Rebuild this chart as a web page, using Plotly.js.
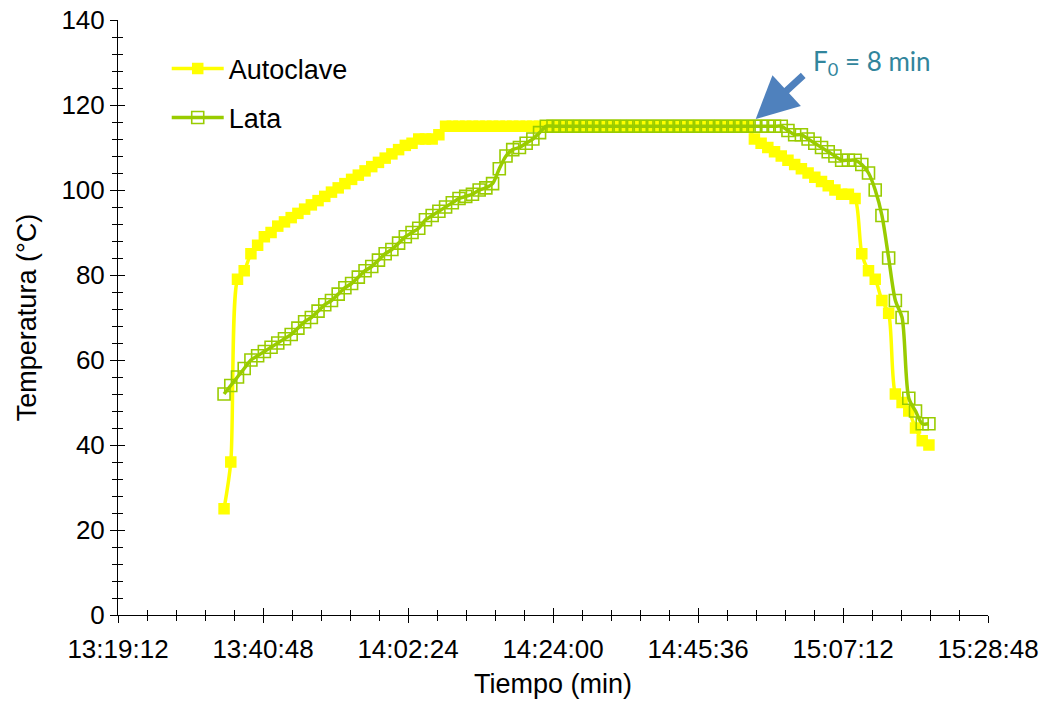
<!DOCTYPE html>
<html>
<head>
<meta charset="utf-8">
<script src="https://cdn.plot.ly/plotly-3.0.1.min.js"></script>
<style>
  html, body { margin: 0; padding: 0; background: #fff; }
  #chart { width: 1051px; height: 705px; }
</style>
</head>
<body>
<div id="chart"></div>
<script>
// Sampling times (one reading per minute)
const tiempos = [
  "13:35","13:36","13:37","13:38","13:39","13:40","13:41","13:42","13:43","13:44",
  "13:45","13:46","13:47","13:48","13:49","13:50","13:51","13:52","13:53","13:54",
  "13:55","13:56","13:57","13:58","13:59","14:00","14:01","14:02","14:03","14:04",
  "14:05","14:06","14:07","14:08","14:09","14:10","14:11","14:12","14:13","14:14",
  "14:15","14:16","14:17","14:18","14:19","14:20","14:21","14:22","14:23","14:24",
  "14:25","14:26","14:27","14:28","14:29","14:30","14:31","14:32","14:33","14:34",
  "14:35","14:36","14:37","14:38","14:39","14:40","14:41","14:42","14:43","14:44",
  "14:45","14:46","14:47","14:48","14:49","14:50","14:51","14:52","14:53","14:54",
  "14:55","14:56","14:57","14:58","14:59","15:00","15:01","15:02","15:03","15:04",
  "15:05","15:06","15:07","15:08","15:09","15:10","15:11","15:12","15:13","15:14",
  "15:15","15:16","15:17","15:18","15:19","15:20"
];

// Retort temperature (°C)
const autoclave = [
  25, 36, 79, 81, 85, 87, 89, 90, 91.5, 92.5,
  93.5, 94.5, 95.5, 96.5, 97.5, 98.5, 99.5, 100.5, 101.5, 102.5,
  103.5, 104.5, 105.5, 106.5, 107.5, 108.5, 109.5, 110.5, 111, 112,
  112, 112, 113, 115, 115, 115, 115, 115, 115, 115,
  115, 115, 115, 115, 115, 115, 115, 115, 115, 115,
  115, 115, 115, 115, 115, 115, 115, 115, 115, 115,
  115, 115, 115, 115, 115, 115, 115, 115, 115, 115,
  115, 115, 115, 115, 115, 115, 115, 115, 115, 112,
  111, 110, 109, 108, 107, 106, 105, 104, 103, 102,
  101, 100, 99, 99, 98, 85, 81, 79, 74, 71,
  52, 50, 48, 44, 41, 40
];

// Can (cold point) temperature (°C)
const lata = [
  52, 54, 56, 58, 60, 61, 62, 63, 64, 65,
  66, 67.5, 69, 70, 71.5, 73, 74, 75.5, 77, 78,
  79.5, 81, 82, 83.5, 85, 86, 87.5, 89, 90, 91,
  93, 94, 95, 96, 97, 98, 98.5, 99, 100, 100.5,
  101.5, 105, 108, 109.5, 110, 111, 112, 113.5, 115, 115,
  115, 115, 115, 115, 115, 115, 115, 115, 115, 115,
  115, 115, 115, 115, 115, 115, 115, 115, 115, 115,
  115, 115, 115, 115, 115, 115, 115, 115, 115, 115,
  115, 115, 115, 115, 114, 113, 113, 112, 111, 110,
  109, 108, 107, 107, 107, 106, 104, 100, 94, 84,
  74, 70, 51, 48, 45, 45
];

// Annotation: F0 value and the point it refers to
const f0Texto = "F<sub>0</sub> = 8 min";
const f0Punto = { t: "14:54:12", temp: 116.7 };

const dia = "2020-01-01 ";
const xs = tiempos.map(t => dia + t + ":00");

const rangoX = [dia + "13:19:12", dia + "15:28:48"];
const pasoMayor = 1296000;      // 21:36 between labels
const pasoMenor = pasoMayor / 5;

const fuente = "Liberation Sans, Arial, sans-serif";
const verdeLata = "#99CC00";
const amarillo = "#FFFF00";

const traces = [
  {
    x: xs, y: autoclave, name: "Autoclave", type: "scatter", mode: "lines+markers",
    line: { color: amarillo, width: 3.5, shape: "spline", smoothing: 0.8 },
    marker: { symbol: "square", size: 11.5, color: amarillo },
    legendgroup: "a"
  },
  {
    x: xs, y: lata, name: "Lata", type: "scatter", mode: "lines+markers",
    line: { color: verdeLata, width: 3.5, shape: "spline", smoothing: 0.8 },
    marker: { symbol: "square-open", size: 12, color: verdeLata, line: { width: 1.6, color: verdeLata } },
    legendgroup: "b"
  },
  // carrier for the overlay axes that draw the inner half of the crossing ticks
  { x: [], y: [], xaxis: "x2", yaxis: "y2", showlegend: false, hoverinfo: "skip", type: "scatter" }
];

const baseX = {
  type: "date", range: rangoX, tick0: rangoX[0], dtick: pasoMayor,
  showgrid: false, zeroline: false
};
const baseY = { range: [0, 140], dtick: 20, tick0: 0, showgrid: false, zeroline: false };

const layout = {
  width: 1051, height: 705,
  margin: { l: 118, r: 63, t: 20, b: 90 },
  paper_bgcolor: "#fff", plot_bgcolor: "#fff",
  font: { family: fuente, color: "#000", size: 26 },
  showlegend: true,
  legend: {
    x: 0.056, y: 0.959, xanchor: "left", yanchor: "top",
    bgcolor: "rgba(0,0,0,0)", font: { size: 27, family: fuente, color: "#000" },
    tracegroupgap: 11, itemwidth: 52
  },
  xaxis: Object.assign({}, baseX, {
    tickformat: "%H:%M:%S",
    ticks: "outside", ticklen: 7, tickwidth: 1, tickcolor: "#000",
    minor: { dtick: pasoMenor, tick0: rangoX[0], ticks: "outside", ticklen: 5, tickwidth: 1, tickcolor: "#000" },
    showline: true, linecolor: "#000", linewidth: 1,
    tickfont: { size: 26 }, ticklabelstandoff: 4,
    title: { text: "Tiempo (min)", font: { size: 27 }, standoff: 10 }
  }),
  xaxis2: Object.assign({}, baseX, {
    overlaying: "x", anchor: "y2", side: "bottom",
    ticks: "inside", ticklen: 7, tickwidth: 1, tickcolor: "#000",
    minor: { dtick: pasoMenor, tick0: rangoX[0], ticks: "inside", ticklen: 5, tickwidth: 1, tickcolor: "#000" },
    showticklabels: false, showline: false
  }),
  yaxis: Object.assign({}, baseY, {
    ticks: "outside", ticklen: 7, tickwidth: 1, tickcolor: "#000",
    minor: { dtick: 4, ticks: "outside", ticklen: 5, tickwidth: 1, tickcolor: "#000" },
    showline: true, linecolor: "#000", linewidth: 1,
    tickfont: { size: 26 },
    title: { text: "Temperatura (°C)", font: { size: 27 }, standoff: 16 }
  }),
  yaxis2: Object.assign({}, baseY, {
    overlaying: "y", anchor: "x2", side: "left",
    ticks: "inside", ticklen: 7, tickwidth: 1, tickcolor: "#000",
    minor: { dtick: 4, ticks: "inside", ticklen: 5, tickwidth: 1, tickcolor: "#000" },
    showticklabels: false, showline: false
  }),
  annotations: [
    {
      x: dia + f0Punto.t, y: f0Punto.temp, xref: "x", yref: "y",
      text: "", showarrow: true, ax: 49, ay: -45,
      arrowcolor: "#4F81BD", arrowwidth: 7, arrowhead: 2, arrowsize: 1.2, standoff: 0
    },
    {
      x: 0.867, y: 0.929, xref: "paper", yref: "paper",
      xanchor: "center", yanchor: "middle", showarrow: false,
      text: f0Texto, font: { family: "Lato, Open Sans, sans-serif", size: 26, color: "#31859C" }
    }
  ]
};

Plotly.newPlot("chart", traces, layout, { displayModeBar: false, staticPlot: true });
</script>
</body>
</html>
